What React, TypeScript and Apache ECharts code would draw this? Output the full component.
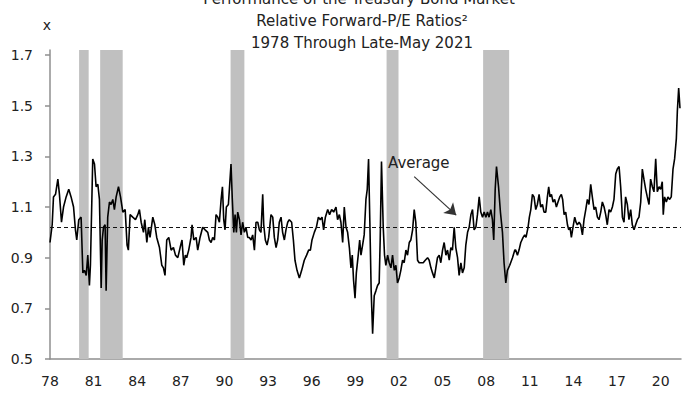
import React, { useEffect, useRef } from "react";
import * as echarts from "echarts";

// [decimal year, relative forward P/E]
const obs1978to1988: [number, number][] = [
  [1978.0, 0.96], [1978.15, 1.03], [1978.24, 1.14], [1978.38, 1.15], [1978.54, 1.21], [1978.65, 1.15],
  [1978.79, 1.04], [1978.93, 1.1], [1979.11, 1.14], [1979.29, 1.17], [1979.45, 1.14], [1979.62, 1.1],
  [1979.75, 1.01], [1979.84, 0.97], [1979.98, 1.05], [1980.14, 1.06], [1980.26, 0.84], [1980.37, 0.85],
  [1980.49, 0.83], [1980.6, 0.91], [1980.71, 0.79], [1980.78, 0.87], [1980.94, 1.29], [1981.06, 1.27],
  [1981.17, 1.18], [1981.29, 1.19], [1981.4, 1.13], [1981.52, 0.78], [1981.59, 0.97], [1981.68, 1.02],
  [1981.79, 1.03], [1981.86, 0.77], [1981.97, 1.06], [1982.09, 1.12], [1982.2, 1.11], [1982.32, 1.13],
  [1982.43, 1.09], [1982.55, 1.14], [1982.71, 1.18], [1982.85, 1.14], [1983.01, 1.08], [1983.17, 1.09],
  [1983.3, 0.95], [1983.39, 0.93], [1983.51, 1.07], [1983.69, 1.06], [1983.88, 1.05], [1984.04, 1.07],
  [1984.15, 1.09], [1984.27, 1.04], [1984.43, 1.0], [1984.52, 1.05], [1984.66, 0.96], [1984.77, 1.02],
  [1984.88, 0.98], [1985.07, 1.06], [1985.21, 1.03], [1985.34, 0.98], [1985.53, 0.94], [1985.69, 0.87],
  [1985.8, 0.86], [1985.91, 0.83], [1986.03, 0.97], [1986.17, 0.98], [1986.33, 0.93], [1986.49, 0.94],
  [1986.63, 0.91], [1986.79, 0.9], [1986.95, 0.94], [1987.08, 0.97], [1987.2, 0.87], [1987.31, 0.91],
  [1987.4, 0.9], [1987.54, 0.93], [1987.7, 0.98], [1987.77, 1.03], [1987.89, 0.97], [1988.05, 0.98],
  [1988.16, 0.93], [1988.32, 0.98], [1988.5, 1.02], [1988.67, 1.01], [1988.85, 1.0],
];

const obs1989to1999: [number, number][] = [
  [1988.96, 0.97], [1989.08, 0.96], [1989.19, 0.98], [1989.31, 0.97], [1989.42, 1.07], [1989.54, 1.06],
  [1989.65, 1.04], [1989.77, 1.13], [1989.86, 1.18], [1989.95, 1.05], [1990.04, 1.01], [1990.13, 1.1],
  [1990.27, 1.11], [1990.36, 1.19], [1990.45, 1.27], [1990.54, 1.13], [1990.64, 1.0], [1990.73, 1.07],
  [1990.82, 1.0], [1990.91, 1.08], [1991.03, 1.05], [1991.14, 0.99], [1991.25, 1.04], [1991.37, 1.0],
  [1991.48, 1.02], [1991.6, 0.98], [1991.71, 0.98], [1991.83, 0.97], [1991.94, 0.99], [1992.06, 0.93],
  [1992.17, 1.04], [1992.29, 1.04], [1992.4, 1.01], [1992.51, 1.0], [1992.63, 1.15], [1992.7, 1.03],
  [1992.81, 0.97], [1992.93, 0.95], [1993.04, 0.98], [1993.2, 1.07], [1993.32, 1.06], [1993.43, 0.98],
  [1993.55, 0.94], [1993.66, 0.97], [1993.77, 1.04], [1993.89, 1.06], [1994.0, 1.0], [1994.12, 0.97],
  [1994.23, 1.01], [1994.35, 1.04], [1994.46, 1.05], [1994.62, 1.04], [1994.74, 0.97], [1994.85, 0.89],
  [1994.99, 0.85], [1995.15, 0.82], [1995.31, 0.85], [1995.49, 0.89], [1995.65, 0.91], [1995.79, 0.93],
  [1995.91, 0.93], [1996.02, 0.97], [1996.18, 1.0], [1996.32, 1.02], [1996.46, 1.06], [1996.59, 1.05],
  [1996.71, 1.06], [1996.82, 1.01], [1996.94, 1.06], [1997.1, 1.09], [1997.23, 1.07], [1997.37, 1.09],
  [1997.51, 1.08], [1997.67, 1.1], [1997.78, 1.05], [1997.9, 1.07], [1998.01, 1.04], [1998.13, 0.96],
  [1998.24, 1.1], [1998.36, 1.02], [1998.47, 1.0], [1998.59, 0.94], [1998.7, 0.86], [1998.79, 0.91],
  [1998.88, 0.81], [1998.98, 0.74], [1999.07, 0.84], [1999.2, 0.91], [1999.3, 0.97], [1999.39, 0.91],
];

const obs1999to2009: [number, number][] = [
  [1999.5, 0.95], [1999.61, 0.99], [1999.73, 1.13], [1999.82, 1.17], [1999.91, 1.29], [2000.0, 1.04],
  [2000.09, 0.77], [2000.19, 0.6], [2000.3, 0.75], [2000.42, 0.77], [2000.53, 0.79], [2000.64, 0.8],
  [2000.71, 0.97], [2000.8, 1.28], [2000.92, 1.02], [2001.01, 0.91], [2001.1, 0.87], [2001.22, 0.91],
  [2001.33, 0.88], [2001.45, 0.86], [2001.56, 0.91], [2001.68, 0.85], [2001.79, 0.87], [2001.9, 0.8],
  [2002.02, 0.82], [2002.13, 0.85], [2002.25, 0.89], [2002.36, 0.88], [2002.48, 0.93], [2002.59, 0.91],
  [2002.71, 0.96], [2002.82, 0.97], [2002.94, 1.01], [2003.05, 1.09], [2003.16, 1.04], [2003.28, 0.89],
  [2003.39, 0.88], [2003.51, 0.88], [2003.67, 0.88], [2003.81, 0.89], [2003.97, 0.9], [2004.08, 0.89],
  [2004.2, 0.86], [2004.31, 0.84], [2004.43, 0.82], [2004.54, 0.86], [2004.65, 0.9], [2004.77, 0.91],
  [2004.88, 0.88], [2005.0, 0.93], [2005.11, 0.96], [2005.23, 0.91], [2005.34, 0.93], [2005.46, 0.89],
  [2005.57, 0.94], [2005.68, 0.93], [2005.8, 1.02], [2005.91, 0.94], [2006.03, 0.9], [2006.14, 0.83],
  [2006.26, 0.88], [2006.37, 0.84], [2006.49, 0.86], [2006.6, 0.95], [2006.72, 1.0], [2006.83, 1.02],
  [2006.95, 1.07], [2007.06, 1.09], [2007.17, 1.01], [2007.29, 1.02], [2007.4, 1.07], [2007.52, 1.14],
  [2007.63, 1.08], [2007.75, 1.06], [2007.86, 1.08], [2007.98, 1.06], [2008.09, 1.08], [2008.2, 1.06],
  [2008.32, 1.09], [2008.43, 1.05], [2008.52, 0.97], [2008.62, 1.17], [2008.71, 1.26], [2008.85, 1.18],
  [2008.98, 1.08], [2009.12, 1.0], [2009.23, 0.88], [2009.35, 0.8], [2009.46, 0.85], [2009.62, 0.87],
  [2009.81, 0.9], [2009.97, 0.93],
];

const obs2010to2021: [number, number][] = [
  [2010.03, 0.93], [2010.15, 0.91], [2010.26, 0.93], [2010.38, 0.96], [2010.54, 0.98], [2010.65, 0.99],
  [2010.74, 0.98], [2010.88, 1.02], [2010.97, 1.06], [2011.07, 1.09], [2011.18, 1.15], [2011.29, 1.14],
  [2011.41, 1.09], [2011.52, 1.11], [2011.64, 1.15], [2011.75, 1.1], [2011.87, 1.11], [2011.98, 1.08],
  [2012.1, 1.08], [2012.21, 1.14], [2012.3, 1.18], [2012.39, 1.14], [2012.49, 1.15], [2012.6, 1.12],
  [2012.71, 1.13], [2012.83, 1.1], [2012.94, 1.12], [2013.06, 1.14], [2013.17, 1.15], [2013.26, 1.13],
  [2013.36, 1.07], [2013.47, 1.08], [2013.59, 1.03], [2013.68, 1.01], [2013.77, 1.02], [2013.86, 0.98],
  [2013.97, 1.02], [2014.09, 1.06], [2014.18, 1.04], [2014.27, 1.03], [2014.39, 1.04], [2014.5, 1.03],
  [2014.62, 0.99], [2014.73, 1.05], [2014.85, 1.09], [2014.96, 1.13], [2015.07, 1.11], [2015.19, 1.19],
  [2015.3, 1.14], [2015.42, 1.09], [2015.53, 1.1], [2015.65, 1.06], [2015.76, 1.05], [2015.88, 1.08],
  [2015.99, 1.12], [2016.11, 1.1], [2016.22, 1.07], [2016.33, 1.03], [2016.45, 1.09], [2016.56, 1.08],
  [2016.68, 1.1], [2016.79, 1.13], [2016.91, 1.23], [2017.02, 1.25], [2017.14, 1.26], [2017.25, 1.18],
  [2017.37, 1.06], [2017.48, 1.04], [2017.59, 1.14], [2017.71, 1.11], [2017.82, 1.05], [2017.94, 1.09],
  [2018.05, 1.03], [2018.17, 1.01], [2018.28, 1.03], [2018.4, 1.05], [2018.51, 1.06], [2018.63, 1.12],
  [2018.74, 1.25], [2018.85, 1.21], [2018.97, 1.17], [2019.08, 1.14], [2019.2, 1.11], [2019.31, 1.21],
  [2019.43, 1.18], [2019.54, 1.16], [2019.66, 1.29], [2019.77, 1.16], [2019.89, 1.18], [2020.0, 1.17],
  [2020.11, 1.2], [2020.18, 1.07], [2020.27, 1.14], [2020.39, 1.12], [2020.5, 1.14], [2020.62, 1.13],
  [2020.73, 1.14], [2020.85, 1.25], [2020.96, 1.29], [2021.08, 1.37], [2021.15, 1.48], [2021.24, 1.57],
  [2021.33, 1.49],
];

const recessions: [number, number][] = [
  [1980.0, 1980.66],
  [1981.45, 1983.0],
  [1990.42, 1991.37],
  [2001.15, 2001.97],
  [2007.79, 2009.58],
];

const averageValue = 1.02;
const yTicks = [0.5, 0.7, 0.9, 1.1, 1.3, 1.5, 1.7];
const xTicks = [1978, 1981, 1984, 1987, 1990, 1993, 1996, 1999, 2002, 2005, 2008, 2011, 2014, 2017, 2020];
const titleLines = [
  "Performance of the Treasury Bond Market\u00b9",
  "Relative Forward-P/E Ratios\u00b2",
  "1978 Through Late-May 2021",
];
const arrowFrom: [number, number] = [2003.05, 1.22];
const arrowTo: [number, number] = [2005.94, 1.068];

const FONT = "DejaVu Sans";
const AXIS_COLOR = "#8f8f8f";
const TEXT_COLOR = "#222";

export default function App() {
  const ref = useRef<HTMLDivElement>(null);

  useEffect(() => {
    if (!ref.current) return;
    const chart = echarts.init(ref.current, undefined, { renderer: "svg" });
    const data = [...obs1978to1988, ...obs1989to1999, ...obs1999to2009, ...obs2010to2021];

    chart.setOption({
      animation: false,
      textStyle: { fontFamily: FONT },
      grid: { left: 50, right: 19, top: 50, bottom: 35 },
      graphic: [
        ...titleLines.map((t, i) => ({
          type: "text",
          x: 362,
          y: -1 + i * 22,
          style: {
            text: t,
            fontFamily: FONT,
            fontSize: 15,
            fill: TEXT_COLOR,
            textAlign: "center",
            textVerticalAlign: "middle",
          },
        })),
        {
          type: "text",
          x: 47,
          y: 25,
          style: { text: "x", fontFamily: FONT, fontSize: 14, fill: TEXT_COLOR, textAlign: "center", textVerticalAlign: "middle" },
        },
        {
          type: "text",
          x: 388,
          y: 163,
          z: 10,
          style: { text: "Average", fontFamily: FONT, fontSize: 15, fill: TEXT_COLOR, textAlign: "left", textVerticalAlign: "middle" },
        },
      ],
      xAxis: {
        type: "value",
        min: 1978,
        max: 2021.4,
        splitLine: { show: false },
        axisLine: { lineStyle: { color: AXIS_COLOR, width: 1.5 } },
        axisTick: { show: false },
        axisLabel: {
          customValues: xTicks,
          formatter: (v: number) => String(Math.round(v)).slice(2),
          color: TEXT_COLOR,
          fontSize: 14,
          fontFamily: FONT,
          margin: 15,
        },
      },
      yAxis: {
        type: "value",
        min: 0.5,
        max: 1.72,
        splitLine: { show: false },
        axisLine: { show: true, lineStyle: { color: AXIS_COLOR, width: 1.5 } },
        axisTick: { show: true, customValues: yTicks, length: 5, lineStyle: { color: AXIS_COLOR, width: 1.5 } },
        axisLabel: {
          customValues: yTicks,
          formatter: (v: number) => v.toFixed(1),
          color: TEXT_COLOR,
          fontSize: 14,
          fontFamily: FONT,
          margin: 17,
        },
      },
      series: [
        {
          type: "line",
          data,
          symbol: "none",
          showSymbol: false,
          lineStyle: { color: "#000", width: 1.6 },
          markArea: {
            silent: true,
            itemStyle: { color: "#c0c0c0" },
            data: recessions.map(([a, b]) => [{ xAxis: a }, { xAxis: b }]),
          },
          markLine: {
            silent: true,
            symbol: ["none", "none"],
            label: { show: false },
            emphasis: { disabled: true },
            data: [
              { yAxis: averageValue, lineStyle: { type: [4, 3], color: "#111", width: 1.2 } },
              [
                { coord: arrowFrom, symbol: "none", lineStyle: { type: "solid", color: "#333", width: 1.2 } },
                { coord: arrowTo, symbol: "arrow", symbolSize: 11 },
              ],
            ],
          },
        },
      ],
    });

    return () => chart.dispose();
  }, []);

  return <div ref={ref} style={{ width: 700, height: 394, position: "absolute", left: 0, top: 0 }} />;
}
